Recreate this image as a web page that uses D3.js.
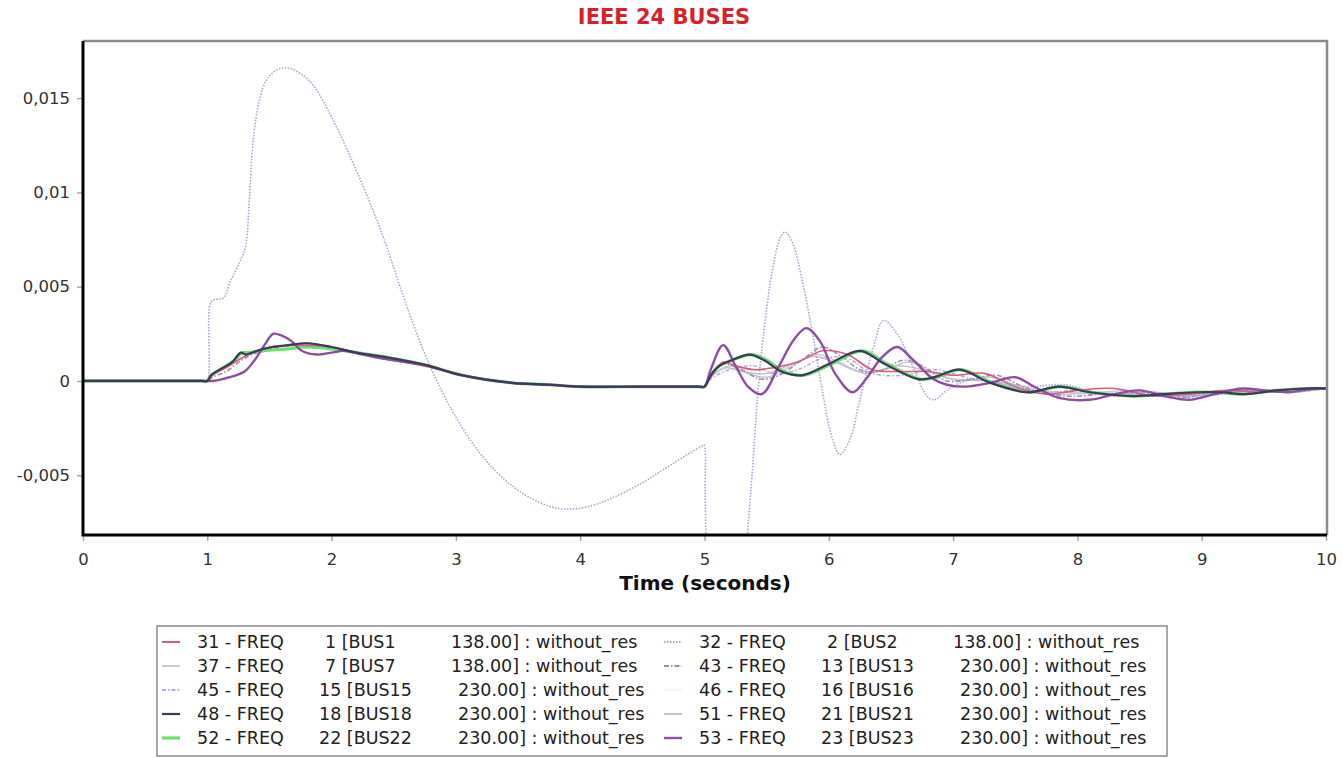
<!DOCTYPE html>
<html>
<head>
<meta charset="utf-8">
<script src="https://cdn.jsdelivr.net/npm/d3@7"></script>
<style>
  body { margin: 0; background: #fff; }
  svg { display: block; font-family: "DejaVu Sans", Verdana, sans-serif; }
</style>
</head>
<body>
<svg></svg>
<script>
const width = 1342, height = 758;
const svg = d3.select("svg").attr("width", width).attr("height", height);

// ---- data: [time (s), frequency deviation] ----
const pre = [[0,0],[0.5,0],[0.95,0],[1.0,0],[1.03,0.0003],[1.1,0.0006],[1.2,0.0010],[1.27,0.0015],[1.31,0.0014],[1.36,0.0015],[1.45,0.0017],[1.65,0.0019],[1.8,0.0020],[2.0,0.0018],[2.2,0.0015],[2.4,0.0013],[2.75,0.00085],[3.05,0.0003],[3.45,-0.0001],[3.75,-0.0002],[4.0,-0.0003],[4.5,-0.0003],[4.95,-0.0003],[5.0,-0.0003]];

const f31 = [[0,0],[0.5,0],[0.95,0],[1.0,0],[1.04,0.0003],[1.15,0.0007],[1.3,0.0013],[1.5,0.0018],[1.75,0.0019],[2.0,0.0018],[2.2,0.0015],[2.4,0.0012],[2.75,0.0008],[3.05,0.0003],[3.45,-0.0001],[3.75,-0.0002],[4.0,-0.0003],[4.5,-0.0003],[4.95,-0.0003],[5.0,-0.0003],
  [5.05,0.0002],[5.15,0.0010],[5.25,0.0008],[5.4,0.0006],[5.55,0.0007],[5.75,0.0010],[5.95,0.0016],[6.15,0.0014],[6.35,0.0006],[6.55,0.0005],[6.8,0.0005],[7.0,0.0003],[7.25,0.0004],[7.5,-0.0003],[7.75,-0.0007],[8.0,-0.0005],[8.3,-0.0004],[8.6,-0.0008],[8.9,-0.0007],[9.2,-0.0005],[9.5,-0.0006],[9.8,-0.0004],[10,-0.0004]];

const f32 = [[0,0],[0.5,0],[0.97,0],[1.0,0],[1.02,0.0040],[1.05,0.0043],[1.13,0.0044],[1.18,0.0052],[1.28,0.0066],[1.31,0.0072],[1.34,0.0098],[1.37,0.0128],[1.42,0.0149],[1.48,0.0160],[1.56,0.0165],[1.65,0.0166],[1.75,0.0163],[1.85,0.0157],[2.0,0.0140],[2.17,0.0116],[2.33,0.0091],[2.45,0.0070],[2.55,0.0050],[2.74,0.0016],[2.93,-0.0011],[3.19,-0.0038],[3.46,-0.0056],[3.73,-0.0066],[3.92,-0.0068],[4.1,-0.0066],[4.26,-0.0062],[4.5,-0.0054],[4.67,-0.0047],[4.9,-0.00375],[4.97,-0.0035],[4.995,-0.0034],
  [5.005,-0.0060],[5.02,-0.0110],[5.08,-0.0190],[5.16,-0.0230],[5.26,-0.0170],[5.33,-0.0095],[5.38,-0.0052],[5.43,-0.0006],[5.47,0.0022],[5.55,0.0060],[5.61,0.0076],[5.65,0.0079],[5.71,0.0073],[5.79,0.0052],[5.87,0.0025],[5.95,-0.0006],[6.03,-0.0031],[6.09,-0.0039],[6.17,-0.0031],[6.25,-0.0010],[6.36,0.0018],[6.44,0.0032],[6.55,0.0025],[6.68,0.0007],[6.79,-0.0008],[6.85,-0.0010],[6.95,-0.0005],[7.1,0.0000],[7.3,0.0000],[7.6,-0.0003],[7.9,-0.0002],[8.2,-0.0007],[8.6,-0.0006],[9.0,-0.0008],[9.4,-0.0005],[9.8,-0.0005],[10,-0.0004]];

const f37 = pre.concat([[5.05,0.0002],[5.2,0.0008],[5.35,0.0004],[5.5,0.0002],[5.7,0.0008],[5.9,0.0014],[6.05,0.0011],[6.25,0.0005],[6.45,0.0006],[6.65,0.0010],[6.85,0.0004],[7.05,0.0000],[7.3,0.0002],[7.55,-0.0003],[7.85,-0.0007],[8.15,-0.0006],[8.5,-0.0005],[8.8,-0.0008],[9.1,-0.0006],[9.4,-0.0005],[9.7,-0.0006],[10,-0.0004]]);

const f43 = [[0,0],[0.5,0],[0.95,0],[1.0,0],[1.04,0.0002],[1.15,0.0005],[1.3,0.0012],[1.5,0.0017],[1.75,0.0019],[2.0,0.0017],[2.2,0.0015],[2.4,0.0012],[2.75,0.0008],[3.05,0.0003],[3.45,-0.0001],[3.75,-0.0002],[4.0,-0.0003],[4.5,-0.0003],[4.95,-0.0003],[5.0,-0.0003],
  [5.05,0.0003],[5.15,0.0009],[5.3,0.0006],[5.45,0.0001],[5.6,0.0003],[5.8,0.0012],[5.95,0.0018],[6.1,0.0013],[6.25,0.0006],[6.4,0.0005],[6.6,0.0011],[6.75,0.0008],[6.95,0.0000],[7.15,0.0001],[7.35,0.0003],[7.6,-0.0004],[7.9,-0.0008],[8.2,-0.0007],[8.5,-0.0006],[8.8,-0.0009],[9.1,-0.0006],[9.4,-0.0005],[9.7,-0.0006],[10,-0.0004]];

const f45 = pre.concat([[5.05,0.0001],[5.2,0.0006],[5.4,0.0008],[5.55,0.0004],[5.75,0.0006],[5.95,0.0012],[6.15,0.0012],[6.35,0.0004],[6.6,0.0003],[6.85,0.0006],[7.1,0.0002],[7.4,-0.0002],[7.7,-0.0006],[8.0,-0.0005],[8.3,-0.0008],[8.6,-0.0006],[8.95,-0.0009],[9.3,-0.0005],[9.65,-0.0006],[10,-0.0004]]);

const f46 = pre.concat([[5.1,0.0005],[5.4,0.0010],[5.8,0.0006],[6.2,0.0010],[6.6,0.0004],[7.0,0.0002],[7.5,-0.0004],[8.0,-0.0006],[9.0,-0.0006],[10,-0.0004]]);

const f48 = pre.concat([[5.05,0.0003],[5.12,0.0008],[5.22,0.0011],[5.36,0.0014],[5.48,0.0011],[5.62,0.0005],[5.78,0.0003],[6.0,0.0009],[6.25,0.0016],[6.45,0.0009],[6.72,0.0001],[6.85,0.0002],[7.05,0.0006],[7.3,-0.0001],[7.6,-0.0006],[7.85,-0.0003],[8.1,-0.0006],[8.45,-0.0008],[8.7,-0.0007],[8.95,-0.0006],[9.15,-0.0006],[9.35,-0.0007],[9.6,-0.0005],[9.85,-0.0004],[10,-0.0004]]);

const f51 = pre.concat([[5.05,0.0002],[5.18,0.0007],[5.3,0.0005],[5.5,0.0004],[5.7,0.0009],[5.88,0.0013],[6.05,0.0010],[6.3,0.0004],[6.55,0.0008],[6.75,0.0006],[7.0,0.0001],[7.3,0.0000],[7.6,-0.0005],[7.9,-0.0006],[8.25,-0.0007],[8.6,-0.0006],[8.9,-0.0008],[9.2,-0.0006],[9.55,-0.0006],[10,-0.0004]]);

const f52 = [[0,0],[0.5,0],[0.95,0],[1.0,0],[1.03,0.0003],[1.1,0.0006],[1.2,0.0010],[1.28,0.0015],[1.32,0.0015],[1.45,0.0016],[1.65,0.0017],[1.8,0.0018],[2.0,0.0017],[2.2,0.0015],[2.4,0.0013],[2.75,0.00085],[3.05,0.0003],[3.45,-0.0001],[3.75,-0.0002],[4.0,-0.0003],[4.5,-0.0003],[4.95,-0.0003],[5.0,-0.0003],
  [5.05,0.0003],[5.12,0.0008],[5.22,0.0011],[5.38,0.0014],[5.5,0.0011],[5.64,0.0005],[5.8,0.0003],[6.02,0.0009],[6.27,0.0016],[6.47,0.0009],[6.73,0.0001],[6.87,0.0002],[7.06,0.0006],[7.32,-0.0001],[7.62,-0.0006],[7.86,-0.0003],[8.12,-0.0006],[8.45,-0.0008],[8.7,-0.0007],[8.92,-0.0006],[9.12,-0.0006],[9.32,-0.0007],[9.6,-0.0005],[9.82,-0.0004],[10,-0.0004]];

const f53 = [[0,0],[0.5,0],[0.95,0],[1.0,0],[1.05,0.0000],[1.18,0.0002],[1.3,0.0005],[1.38,0.0011],[1.46,0.0019],[1.53,0.0025],[1.6,0.0024],[1.68,0.0021],[1.76,0.0016],[1.88,0.0014],[2.0,0.0015],[2.1,0.0016],[2.25,0.0014],[2.4,0.0012],[2.75,0.00085],[3.05,0.0003],[3.45,-0.0001],[3.75,-0.0002],[4.0,-0.0003],[4.5,-0.0003],[4.95,-0.0003],[5.0,-0.0003],
  [5.05,0.0006],[5.15,0.0019],[5.25,0.0008],[5.35,-0.0003],[5.46,-0.0007],[5.6,0.0008],[5.72,0.0022],[5.82,0.0028],[5.93,0.0021],[6.05,0.0004],[6.19,-0.0006],[6.3,0.0001],[6.42,0.0012],[6.55,0.0018],[6.68,0.0011],[6.84,0.0001],[6.95,-0.0002],[7.1,-0.0003],[7.3,-0.0001],[7.5,0.0002],[7.65,-0.0003],[7.85,-0.0009],[8.1,-0.0010],[8.3,-0.0007],[8.5,-0.0005],[8.7,-0.0008],[8.9,-0.0010],[9.1,-0.0007],[9.33,-0.0004],[9.5,-0.0005],[9.7,-0.0006],[9.9,-0.0004],[10,-0.0004]];

// legend text, row-major in two columns
const seriesIds = [31, 32, 37, 43, 45, 46, 48, 51, 52, 53];
const busNums   = [1, 2, 7, 13, 15, 16, 18, 21, 22, 23];
const busKv     = ["138.00", "138.00", "138.00", "230.00", "230.00", "230.00", "230.00", "230.00", "230.00", "230.00"];
const seriesData = [f31, f32, f37, f43, f45, f46, f48, f51, f52, f53];

const xTicks = d3.range(0, 11);
const yTicks = [-0.005, 0, 0.005, 0.01, 0.015];

// ---- styles ----
const styles = {
  31: { color: "#d0607a", w: 1.6, dash: null },
  32: { color: "#a4a4dc", w: 1.6, dash: "1.5,1.5" },
  37: { color: "#c8c8d4", w: 1.5, dash: null },
  43: { color: "#a08cac", w: 1.6, dash: "5,2,1.5,2" },
  45: { color: "#b4aadc", w: 1.5, dash: "4,2,1.5,2" },
  46: { color: "#f6f6e6", w: 1.2, dash: null },
  48: { color: "#3a3a5a", w: 2.2, dash: null },
  51: { color: "#c6c0d0", w: 1.5, dash: null },
  52: { color: "#6ce06c", w: 3.2, dash: null },
  53: { color: "#8c4fa0", w: 2.4, dash: null }
};
const drawOrder = [46, 37, 51, 45, 43, 32, 52, 31, 53, 48];

const m = { left: 83, right: 1327, top: 41, bottom: 535 };
const x = d3.scaleLinear().domain([0, 10]).range([m.left, 1326]);
const y = d3.scaleLinear().domain([-0.00817, 0.01803]).range([m.bottom, m.top]);

const fmt = d3.formatLocale({ decimal: ",", thousands: ".", grouping: [3], currency: ["", ""], minus: "-" }).format(".3~f");

// title
svg.append("text").attr("x", 664).attr("y", 24).attr("text-anchor", "middle")
  .attr("font-size", 21).attr("font-weight", "bold").attr("fill", "#d8202a").text("IEEE 24 BUSES");

// clip
svg.append("clipPath").attr("id", "plot")
  .append("rect").attr("x", m.left).attr("y", m.top).attr("width", m.right - m.left).attr("height", m.bottom - m.top);

// lines
const line = d3.line().x(d => x(d[0])).y(d => y(d[1])).curve(d3.curveCatmullRom.alpha(0.5));
const g = svg.append("g").attr("clip-path", "url(#plot)");
drawOrder.forEach(id => {
  const i = seriesIds.indexOf(id);
  const s = styles[id];
  g.append("path").datum(seriesData[i])
    .attr("d", line).attr("fill", "none")
    .attr("stroke", s.color).attr("stroke-width", s.w)
    .attr("stroke-dasharray", s.dash).attr("stroke-linejoin", "round");
});

// frame
svg.append("path").attr("d", `M${m.left},${m.top}H${m.right}V${m.bottom}`)
  .attr("fill", "none").attr("stroke", "#8a8a8a").attr("stroke-width", 2.5);

// axes
const xAxis = svg.append("g").attr("transform", `translate(0,${m.bottom})`)
  .call(d3.axisBottom(x).tickValues(xTicks).tickFormat(d3.format("d")).tickSize(6).tickPadding(12));
const yAxis = svg.append("g").attr("transform", `translate(${m.left},0)`)
  .call(d3.axisLeft(y).tickValues(yTicks).tickFormat(fmt).tickSize(6).tickPadding(7));
[xAxis, yAxis].forEach(a => {
  a.select(".domain").remove();
  a.selectAll(".tick line").attr("stroke", "#aaa").attr("stroke-width", 1.5);
  a.selectAll(".tick text").attr("font-size", 16.5).attr("fill", "#333")
    .attr("font-family", "DejaVu Sans, Verdana, sans-serif");
});
svg.append("path").attr("d", `M${m.left},${m.top}V${m.bottom}H${m.right}`)
  .attr("fill", "none").attr("stroke", "#000").attr("stroke-width", 3);

svg.append("text").attr("x", 705).attr("y", 590).attr("text-anchor", "middle")
  .attr("font-size", 20).attr("font-weight", "bold").attr("fill", "#111").text("Time (seconds)");

// legend
svg.append("rect").attr("x", 157).attr("y", 626).attr("width", 1010).attr("height", 130)
  .attr("fill", "#fff").attr("stroke", "#8a8a8a").attr("stroke-width", 1.5);
const lg = svg.append("g").attr("font-size", 17.5).attr("fill", "#222");
seriesIds.forEach((id, i) => {
  const col = i % 2, row = Math.floor(i / 2);
  const x0 = 162 + col * 502, tx = x0 + 35, by = 648 + row * 24;
  const s = styles[id];
  lg.append("line").attr("x1", x0).attr("x2", x0 + 18).attr("y1", by - 6).attr("y2", by - 6)
    .attr("stroke", s.color).attr("stroke-width", Math.max(2, s.w)).attr("stroke-dasharray", s.dash);
  const n = busNums[i];
  const twoDigit = n >= 10;
  lg.append("text").attr("x", tx).attr("y", by).text(`${id} - FREQ`);
  lg.append("text").attr("x", tx + (twoDigit ? 122 : 128)).attr("y", by).text(`${n} [BUS${n}`);
  lg.append("text").attr("x", tx + (twoDigit ? 261 : 254)).attr("y", by).text(`${busKv[i]}] : without_res`);
});
</script>
</body>
</html>
